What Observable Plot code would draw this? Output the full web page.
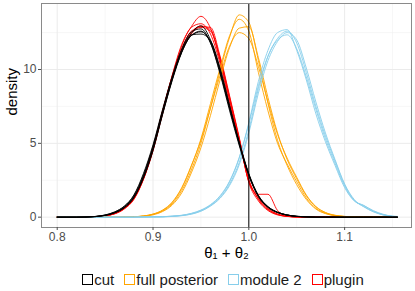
<!DOCTYPE html>
<html><head><meta charset="utf-8">
<script src="https://cdn.jsdelivr.net/npm/d3@7"></script>
<script src="https://cdn.jsdelivr.net/npm/@observablehq/plot@0.6"></script>
<style>
body{margin:0;background:#fff;font-family:"Liberation Sans",Arial,Helvetica,sans-serif;}
#chart{width:415px;height:291px;position:relative;overflow:hidden;}
.legend{display:flex;justify-content:center;align-items:center;height:24px;padding-left:31px;box-sizing:border-box;width:415px;font-size:15px;color:#1a1a1a;}
.item{display:flex;align-items:center;margin-right:10px;}
.item:last-child{margin-right:0;}
.key{width:9px;height:9px;border:1.5px solid;margin-right:1px;box-sizing:content-box;}
</style></head><body><div id="chart"></div>
<script>
// grid of theta1 + theta2 values
const xs = [0.80,0.81,0.82,0.83,0.84,0.85,0.86,0.87,0.88,0.89,0.90,0.91,0.92,0.93,0.94,0.95,0.96,0.97,0.98,0.99,1.00,1.01,1.02,1.03,1.04,1.05,1.06,1.07,1.08,1.09,1.10,1.11,1.12,1.13,1.14,1.15,1.155];

// cut (black)
const cut1 = [0,0,0,0.01,0.04,0.12,0.30,0.65,1.35,2.70, 4.60,7.00,9.30,11.20,12.45,12.95,12.00,9.90,7.40,5.00, 2.90,1.45,0.70,0.33,0.15,0.06,0.02,0,0,0, 0,0,0,0,0,0,0];
const cut2 = [0,0,0,0.01,0.05,0.14,0.34,0.72,1.45,2.85, 4.80,7.20,9.40,11.20,12.30,12.60,11.80,9.80,7.35,4.95, 2.85,1.42,0.68,0.32,0.14,0.05,0.02,0,0,0, 0,0,0,0,0,0,0];
const cut3 = [0,0,0,0.01,0.04,0.13,0.31,0.68,1.38,2.75, 4.70,7.10,9.35,11.30,12.35,12.40,11.95,10.10,7.55,5.05, 2.88,1.40,0.66,0.31,0.14,0.05,0.02,0,0,0, 0,0,0,0,0,0,0];
const cut4 = [0,0,0,0.01,0.05,0.15,0.36,0.75,1.50,2.95, 4.90,7.30,9.55,11.40,12.55,12.75,11.80,9.70,7.20,4.85, 2.80,1.40,0.68,0.32,0.14,0.05,0.02,0,0,0, 0,0,0,0,0,0,0];
const cut5 = [0,0,0,0.01,0.04,0.12,0.29,0.63,1.30,2.62, 4.50,6.95,9.25,11.15,12.30,12.55,11.90,10.00,7.50,5.10, 2.95,1.48,0.72,0.34,0.15,0.06,0.02,0,0,0, 0,0,0,0,0,0,0];

// full posterior (orange)
const full1 = [0,0,0,0,0,0,0,0.01,0.02,0.07, 0.18,0.42,0.90,1.80,3.20,5.00,7.40,9.90,12.20,13.70, 13.20,10.60,7.70,5.20,3.50,2.20,1.20,0.55,0.24,0.10, 0.04,0.01,0,0,0,0,0];
const full2 = [0,0,0,0,0,0,0,0.01,0.03,0.08, 0.20,0.46,0.98,1.95,3.45,5.30,7.70,10.10,12.30,13.40, 12.60,9.80,7.20,5.00,3.60,2.40,1.30,0.60,0.26,0.10, 0.04,0.01,0,0,0,0,0];
const full3 = [0,0,0,0,0,0,0,0.01,0.02,0.06, 0.16,0.38,0.82,1.65,3.00,4.70,6.90,9.30,11.50,12.80, 12.90,10.80,8.10,5.70,3.90,2.60,1.45,0.70,0.30,0.12, 0.05,0.02,0,0,0,0,0];
const full4 = [0,0,0,0,0,0,0,0.01,0.03,0.08, 0.21,0.48,1.02,2.00,3.50,5.20,7.40,9.60,11.60,12.50, 12.10,10.20,7.80,5.60,4.00,2.70,1.50,0.72,0.32,0.13, 0.05,0.02,0,0,0,0,0];

// module 2 (sky blue)
const mod1 = [0,0,0,0,0,0,0,0,0,0.01, 0.02,0.03,0.06,0.12,0.24,0.46,0.82,1.40,2.40,4.00, 6.40,9.20,11.30,12.50,12.70,11.30,9.30,7.00,5.10,3.50, 2.00,1.10,0.80,0.42,0.18,0.06,0.04];
const mod2 = [0,0,0,0,0,0,0,0,0,0.01, 0.02,0.03,0.06,0.11,0.22,0.42,0.78,1.32,2.25,3.70, 5.90,8.70,10.90,12.10,12.60,11.80,9.80,7.50,5.50,3.80, 2.20,1.15,0.72,0.38,0.16,0.05,0.03];
const mod3 = [0,0,0,0,0,0,0,0,0,0.01, 0.02,0.02,0.05,0.10,0.20,0.40,0.75,1.28,2.15,3.55, 5.70,8.40,10.60,11.90,12.50,12.00,10.10,7.80,5.70,3.90, 2.25,1.20,0.70,0.36,0.15,0.05,0.03];
const mod4 = [0,0,0,0,0,0,0,0,0,0.01, 0.02,0.03,0.07,0.13,0.26,0.48,0.85,1.45,2.45,4.05, 6.30,8.90,10.90,12.00,12.35,11.40,9.50,7.30,5.30,3.65, 2.10,1.12,0.78,0.44,0.20,0.07,0.05];

// plugin (red)
const plug1 = [0,0,0,0,0.02,0.08,0.22,0.55,1.20,2.55, 4.50,7.10,9.60,11.70,12.90,13.60,12.80,10.70,8.00,5.30, 2.50,1.25,0.55,0.20,0.06,0.02,0,0,0,0, 0,0,0,0,0,0,0];
const plug2 = [0,0,0,0,0.03,0.10,0.26,0.60,1.25,2.60, 4.55,7.00,9.40,11.40,12.50,12.95,12.70,10.60,7.90,5.20, 2.45,1.30,0.60,0.22,0.07,0.02,0,0,0,0, 0,0,0,0,0,0,0];
const plug3 = [0,0,0,0,0.02,0.09,0.24,0.58,1.22,2.58, 4.60,7.20,9.50,11.30,12.40,12.90,12.85,10.90,8.20,5.40, 2.40,1.55,1.55,0.45,0.08,0.02,0,0,0,0, 0,0,0,0,0,0,0];
const plug4 = [0,0,0,0,0.02,0.09,0.25,0.60,1.28,2.65, 4.65,7.15,9.55,11.60,12.85,13.10,12.40,10.40,7.70,5.10, 2.55,1.20,0.50,0.18,0.05,0.01,0,0,0,0, 0,0,0,0,0,0,0];
const plug5 = [0,0,0,0,0.03,0.10,0.27,0.62,1.30,2.70, 4.70,7.20,9.45,11.35,12.60,12.85,12.60,10.80,8.10,5.30, 2.35,1.10,0.45,0.15,0.05,0.01,0,0,0,0, 0,0,0,0,0,0,0];

const groups = ["cut", "full posterior", "module 2", "plugin"];
const colors = ["#000000", "#FFA500", "#87CEEB", "#FF0000"];
const runs = {
  "plugin": [plug1, plug2, plug3, plug4, plug5],
  "full posterior": [full1, full2, full3, full4],
  "module 2": [mod1, mod2, mod3, mod4],
  "cut": [cut1, cut2, cut3, cut4, cut5]
};
const drawOrder = ["plugin", "full posterior", "module 2", "cut"];

const xTicks = [0.8, 0.9, 1.0, 1.1];
const xMinor = [0.85, 0.95, 1.05, 1.15];
const yTicks = [0, 5, 10];
const yMinor = [2.5, 7.5, 12.5];
const refLine = [1.0];
const xTitle = "θ₁ + θ₂";
const yTitle = "density";

const rows = [];
for (const g of drawOrder) {
  runs[g].forEach((arr, r) => {
    arr.forEach((v, i) => rows.push({x: xs[i], y: v, group: g, run: g + "-" + r}));
  });
}

const plot = Plot.plot({
  width: 415, height: 267,
  marginTop: 3, marginRight: 4, marginBottom: 40, marginLeft: 41,
  style: {fontFamily: "'Liberation Sans', Arial, Helvetica, sans-serif", background: "white", overflow: "visible"},
  x: {domain: [0.7836, 1.1698]},
  y: {domain: [-0.70, 14.47]},
  color: {domain: groups, range: colors},
  marks: [
    Plot.gridX(xMinor, {stroke: "#f2f2f2", strokeOpacity: 1, strokeWidth: 0.6}),
    Plot.gridY(yMinor, {stroke: "#f2f2f2", strokeOpacity: 1, strokeWidth: 0.6}),
    Plot.gridX(xTicks, {stroke: "#ebebeb", strokeOpacity: 1, strokeWidth: 1}),
    Plot.gridY(yTicks, {stroke: "#ebebeb", strokeOpacity: 1, strokeWidth: 1}),
    Plot.line(rows, {x: "x", y: "y", z: "run", stroke: "group", strokeWidth: 0.9, curve: "monotone-x"}),
    Plot.ruleX(refLine, {stroke: "#000", strokeWidth: 1}),
    Plot.frame({stroke: "#8a8a8a", strokeWidth: 1}),
    Plot.axisX(xTicks, {tickSize: 3, tickPadding: 2, fontSize: 12, tickFormat: d3.format(".1f"), label: null, color: "#4d4d4d"}),
    Plot.axisY(yTicks, {tickSize: 3, tickPadding: 2, fontSize: 12, tickFormat: d3.format("d"), label: null, color: "#4d4d4d"}),
    Plot.text([xTitle], {frameAnchor: "bottom", dy: 30, text: d => d, fontSize: 15, fill: "#000"}),
    Plot.text([yTitle], {frameAnchor: "left", dx: -29, rotate: -90, text: d => d, fontSize: 15, fill: "#000"})
  ]
});

const chart = document.getElementById("chart");
chart.appendChild(plot);

const legend = document.createElement("div");
legend.className = "legend";
groups.forEach((g, i) => {
  const item = document.createElement("div");
  item.className = "item";
  const key = document.createElement("span");
  key.className = "key";
  key.style.borderColor = colors[i];
  const lab = document.createElement("span");
  lab.textContent = g;
  item.appendChild(key);
  item.appendChild(lab);
  legend.appendChild(item);
});
chart.appendChild(legend);
</script></body></html>
